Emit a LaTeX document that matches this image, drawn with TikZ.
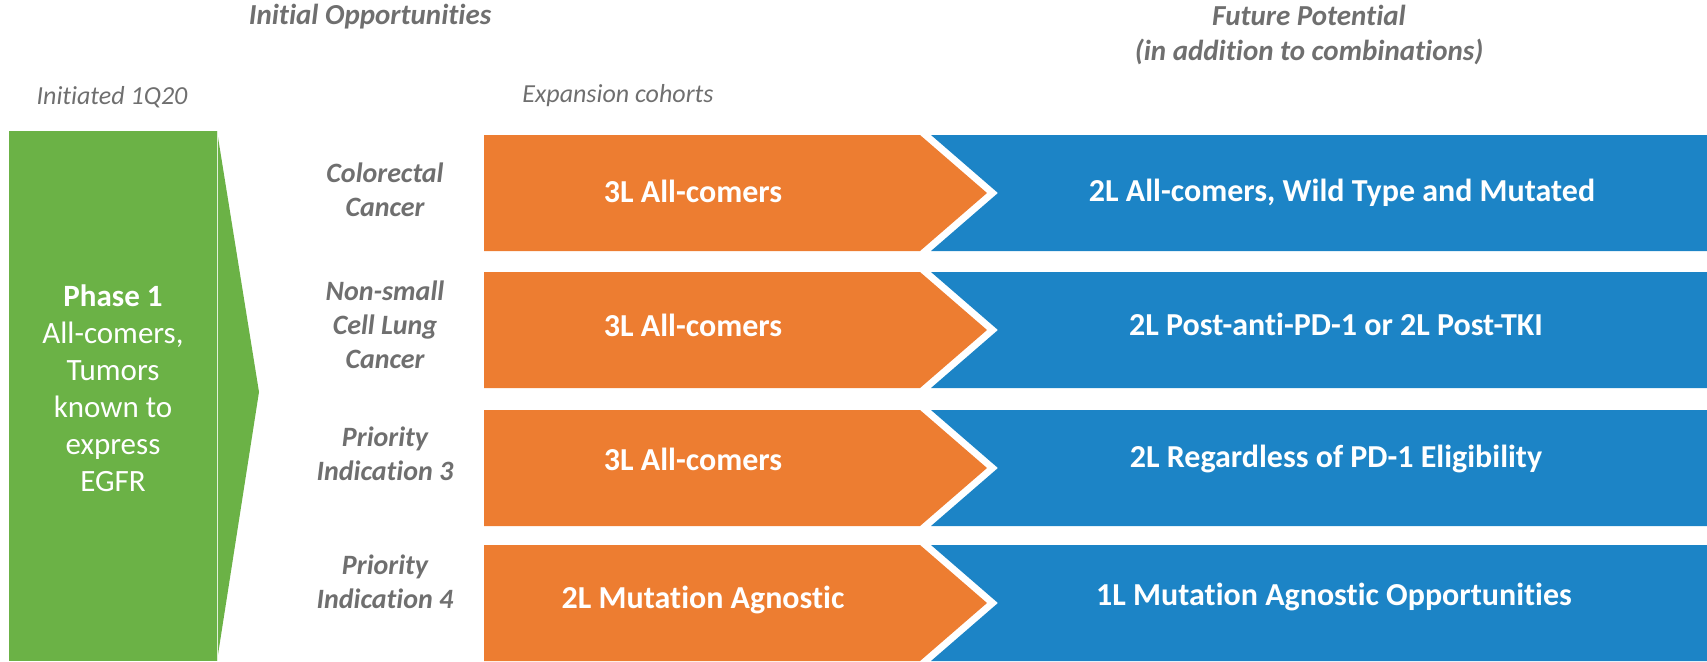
\documentclass[tikz,border=0pt]{standalone}
\usepackage{fontspec}
\setmainfont{Carlito}[Ligatures=NoCommon]
\definecolor{phasegreen}{HTML}{6BB246}
\definecolor{cohortorange}{HTML}{ED7D31}
\definecolor{futureblue}{HTML}{1C84C6}
\definecolor{labelgray}{HTML}{6F6F6F}

\begin{document}
\begin{tikzpicture}[x=1pt,y=-1pt]
\tikzset{head/.style = {text=labelgray, align=center, inner sep=0pt, font=\fontsize{29}{35}\selectfont\bfseries\itshape}}
\tikzset{subhead/.style = {text=labelgray, inner sep=0pt, font=\fontsize{26}{30}\selectfont\itshape}}
\tikzset{indication/.style = {text=labelgray, align=center, inner sep=0pt, font=\fontsize{28}{34}\selectfont\bfseries\itshape}}
\tikzset{boxtext/.style = {text=white, inner sep=0pt, font=\fontsize{32}{38}\selectfont\bfseries}}

\useasboundingbox (0,0) rectangle (1707,661);

% phase 1 arrow
\fill[phasegreen] (9,131) rectangle (217,661);
\fill[phasegreen] (217,131) -- (259,392) -- (217,661) -- cycle;
\draw[white!80!phasegreen, line width=1] (217,131) -- (217,661);

% expansion cohorts
\fill[cohortorange] (484,135) -- (920,135) -- (987,193) -- (920,251) -- (484,251) -- cycle;
\fill[cohortorange] (484,272) -- (920,272) -- (987,330) -- (920,388) -- (484,388) -- cycle;
\fill[cohortorange] (484,410) -- (920,410) -- (987,468) -- (920,526) -- (484,526) -- cycle;
\fill[cohortorange] (484,545) -- (920,545) -- (987,603) -- (920,661) -- (484,661) -- cycle;

% future potential
\fill[futureblue] (931,135) -- (1707,135) -- (1707,251) -- (931,251) -- (998,193) -- cycle;
\fill[futureblue] (931,272) -- (1707,272) -- (1707,388) -- (931,388) -- (998,330) -- cycle;
\fill[futureblue] (931,410) -- (1707,410) -- (1707,526) -- (931,526) -- (998,468) -- cycle;
\fill[futureblue] (931,545) -- (1707,545) -- (1707,661) -- (931,661) -- (998,603) -- cycle;

\node[head] (IO) at (370,17) {Initial Opportunities};
\node[head] (FP) at (1309,35) {Future Potential\\(in addition to combinations)};
\node[subhead] (IN) at (112,97) {Initiated 1Q20};
\node[subhead] (EC) at (618,96) {Expansion cohorts};

\node[text=white, align=center, inner sep=0pt, font=\fontsize{31}{37}\selectfont] (P1) at (113,388)
  {\textbf{Phase 1}\\All-comers,\\Tumors\\known to\\express\\EGFR};

\node[indication] (CRC) at (385,190) {Colorectal\\Cancer};
\node[indication] (NSC) at (385,325) {Non-small\\Cell Lung\\Cancer};
\node[indication] (PI3) at (385,454) {Priority\\Indication 3};
\node[indication] (PI4) at (385,582) {Priority\\Indication 4};

\node[boxtext] (O1) at (693,191) {3L All-comers};
\node[boxtext] (O2) at (693,325) {3L All-comers};
\node[boxtext] (O3) at (693,459) {3L All-comers};
\node[boxtext] (O4) at (703,600) {2L Mutation Agnostic};

\node[boxtext] (F1) at (1342,193) {2L All-comers, Wild Type and Mutated};
\node[boxtext] (F2) at (1336,324) {2L Post-anti-PD-1 or 2L Post-TKI};
\node[boxtext] (F3) at (1336,459) {2L Regardless of PD-1 Eligibility};
\node[boxtext] (F4) at (1334,597) {1L Mutation Agnostic Opportunities};
\end{tikzpicture}
\end{document}
